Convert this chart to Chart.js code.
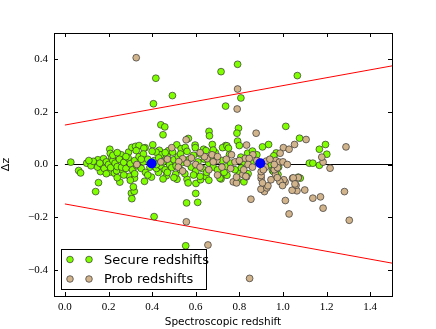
<!DOCTYPE html>
<html lang="en">
<head>
  <meta charset="UTF-8">
  <title>Delta z vs spectroscopic redshift</title>
  <script src="https://cdn.jsdelivr.net/npm/chart.js"></script>
  <style>
    body { margin: 0; background: #fff; }
  </style>
</head>
<body>
  <canvas id="myChart" width="436" height="329"></canvas>

  <script>
    // tick labels
    const xTicks = [0.0, 0.2, 0.4, 0.6, 0.8, 1.0, 1.2, 1.4];
    const yTicks = [-0.4, -0.2, 0.0, 0.2, 0.4];

    // [spec z, delta z]
    const securePts = [
      [0.027,0.009],[0.063,-0.023],[0.072,-0.032],[0.141,-0.103],[0.154,-0.069],[0.252,-0.067],
      [0.305,-0.109],[0.318,-0.102],[0.307,-0.130],[0.409,-0.198],[0.600,-0.110],[0.558,-0.146],
      [0.609,-0.144],[0.554,-0.309],[0.417,0.328],[0.493,0.262],[0.406,0.231],[0.440,0.151],
      [0.458,0.143],[0.450,0.113],[0.661,0.126],[0.663,0.109],[0.566,0.099],[0.716,0.353],
      [0.792,0.381],[1.066,0.338],[0.807,0.253],[0.737,0.222],[1.013,0.145],[0.796,0.138],
      [0.789,0.119],[1.076,0.100],[1.195,0.076],[1.167,0.058],[1.201,0.039],[0.934,0.076],
      [0.906,0.067],[0.969,0.044],[0.958,0.033],[1.121,0.005],[1.137,0.005],[1.167,-0.003],
      [0.792,0.089],[0.800,0.072],[0.676,0.076],[0.513,0.075],[0.533,0.060],[0.552,0.065],
      [0.597,0.074],[0.598,0.064],[0.636,0.058],[0.647,0.053],[0.737,0.072],[0.723,0.064],
      [0.368,0.064],[0.403,0.075],[0.475,0.053],[0.494,0.047],[0.433,0.054],[0.441,0.037],
      [0.418,0.047],[0.206,0.058],[0.208,0.042],[0.214,0.025],[0.258,0.037],[0.292,0.047],
      [0.307,0.065],[0.324,0.069],[0.340,0.072],[0.362,0.062],[0.327,0.053],[0.265,0.015],
      [0.151,0.018],[0.177,0.022],[0.133,0.007],[0.743,0.071],[0.750,0.062],[0.755,0.038],
      [0.838,0.043],[0.860,0.051],[0.880,0.037],[0.807,0.028],
      [0.163,-0.027],[0.205,-0.029],[0.227,-0.033],[0.237,-0.024],[0.266,-0.023],[0.296,-0.045],
      [0.319,-0.052],[0.314,-0.085],[0.365,-0.064],[0.397,-0.048],[0.429,-0.030],[0.465,-0.043],
      [0.508,-0.037],[0.514,-0.056],[0.560,-0.056],[0.565,-0.070],[0.601,-0.072],[0.622,-0.058],
      [0.647,-0.046],[0.707,-0.038],[0.716,-0.055],[0.743,-0.041],[0.711,-0.052],[0.743,-0.008],
      [0.800,-0.033],[0.809,-0.013],[0.821,-0.066],[0.952,-0.023],[0.957,-0.027],[0.977,-0.038],
      [1.079,-0.052],[1.070,-0.048],[0.790,-0.060],
      [0.100,0.005],[0.120,-0.005],[0.130,0.012],[0.150,-0.010],[0.170,0.000],[0.180,-0.015],
      [0.190,0.010],[0.200,0.000],[0.210,-0.012],[0.220,0.015],[0.230,0.005],[0.240,-0.008],
      [0.250,0.020],[0.260,-0.010],[0.270,0.008],[0.280,-0.015],[0.290,0.025],[0.300,0.003],
      [0.310,-0.020],[0.320,0.015],[0.330,-0.005],[0.340,0.030],[0.350,-0.015],[0.360,0.010],
      [0.370,-0.030],[0.380,0.020],[0.390,-0.010],[0.410,0.015],[0.420,-0.015],[0.430,0.025],
      [0.440,-0.005],[0.450,0.010],[0.460,-0.020],[0.470,0.030],[0.480,0.000],[0.490,-0.012],
      [0.500,0.018],[0.510,-0.005],[0.520,0.030],[0.530,-0.020],[0.540,0.008],[0.550,-0.035],
      [0.570,0.020],[0.580,-0.010],[0.590,0.035],[0.600,-0.025],[0.610,0.010],[0.620,0.040],
      [0.630,-0.015],[0.640,0.020],[0.650,-0.030],[0.660,0.005],[0.670,0.030],[0.680,-0.010],
      [0.690,0.045],[0.700,-0.020],[0.720,0.015],[0.730,-0.030],[0.760,0.005],[0.780,-0.020],
      [0.820,0.010],[0.840,-0.035],[0.860,0.005],[0.940,0.000],[0.980,-0.010],[0.360,0.040],
      [0.280,0.030],[0.220,0.035],[0.460,0.045],[0.560,0.050],[0.620,-0.045],[0.380,-0.040],
      [0.270,-0.040],[0.190,-0.035],[0.500,-0.050],[0.660,-0.060],[0.400,0.050],[0.300,-0.060],
      [0.110,0.015],[0.160,0.005],[0.240,0.045],[0.350,0.020],[0.470,-0.030],[0.530,0.040],
      [0.680,0.055],[0.590,-0.040],[0.450,-0.055],[0.240,-0.050],[0.420,0.000],[0.320,-0.035]
    ];

    const probPts = [
      [0.327,0.406],[0.792,0.287],[0.790,0.211],[0.877,0.119],[1.106,0.095],[1.289,0.067],
      [1.002,0.064],[1.028,0.058],[1.053,0.076],[0.987,0.043],[0.833,0.074],[1.184,0.009],
      [1.178,0.028],[1.216,-0.014],[0.556,0.094],[0.490,0.064],[0.540,0.022],[0.522,0.011],
      [0.652,0.022],[0.675,0.037],[0.697,0.015],[0.764,0.037],[0.862,0.037],[0.827,0.023],
      [0.845,0.023],[0.967,0.015],[0.983,0.009],[0.924,0.013],[0.557,-0.218],[0.656,-0.306],
      [0.853,-0.132],[1.011,-0.137],[1.028,-0.188],[1.137,-0.128],[1.172,-0.123],[1.184,-0.166],
      [1.282,-0.103],[1.304,-0.212],[0.847,-0.433],[1.100,-0.097],[1.064,-0.100],[1.042,-0.098],
      [1.060,-0.079],[0.915,-0.103],[0.899,-0.094],[0.926,-0.089],[0.931,-0.081],[1.044,-0.052],
      [1.070,-0.050],[1.010,-0.067],[1.004,-0.058],[0.986,-0.065],[0.966,-0.038],[0.974,-0.050],
      [0.945,-0.058],[0.900,-0.053],[0.906,-0.070],[0.900,-0.042],[0.772,-0.066],[0.787,-0.070],
      [0.833,-0.047],[0.900,-0.027],[0.787,-0.048],[0.816,-0.038],[0.830,-0.045],[0.998,-0.080],
      [1.047,-0.051],[1.055,-0.074],[0.960,-0.020],[0.975,-0.012],
      [0.470,0.020],[0.520,-0.010],[0.560,0.005],[0.580,0.025],[0.600,0.000],[0.620,-0.010],
      [0.640,0.030],[0.660,-0.020],[0.680,0.010],[0.700,0.030],[0.720,-0.010],[0.740,0.020],
      [0.760,-0.015],[0.780,0.010],[0.800,0.015],[0.820,-0.020],[0.840,0.000],[0.860,-0.010],
      [0.880,0.015],[0.920,-0.010],[0.940,0.020],[0.960,0.000],[1.000,0.010],[1.020,0.000],
      [0.910,-0.020],[0.700,-0.040],[0.620,0.045],[0.540,-0.025],[0.440,0.010],[0.330,0.000]
    ];

    // mean offsets per bin
    const meanPts = [[0.398,0.004],[0.896,0.005]];

    // reference lines: zero and +/- 0.15(1+z)
    const lineZ = [0.0, 1.5];
    const zeroDz = [0.0, 0.0];
    const upperDz = [0.15, 0.375];
    const lowerDz = [-0.15, -0.375];

    const toXY = pts => pts.map(p => ({ x: p[0], y: p[1] }));
    const lineXY = ys => lineZ.map((x, i) => ({ x: x, y: ys[i] }));
    const fmt = v => (v < 0 ? '\u2212' : '') + Math.abs(v).toFixed(1);

    // inward ticks on all four sides plus the frame
    const frameTicks = {
      id: 'frameTicks',
      afterDraw(chart) {
        const c = chart.ctx, a = chart.chartArea;
        const xs = chart.scales.x, ys = chart.scales.y;
        c.save();
        c.strokeStyle = '#000';
        c.lineWidth = 1;
        c.beginPath();
        xTicks.forEach(v => {
          const px = Math.round(xs.getPixelForValue(v)) + 0.5;
          c.moveTo(px, a.bottom); c.lineTo(px, a.bottom - 4);
          c.moveTo(px, a.top); c.lineTo(px, a.top + 4);
        });
        yTicks.forEach(v => {
          const py = Math.round(ys.getPixelForValue(v)) + 0.5;
          c.moveTo(a.left, py); c.lineTo(a.left + 4, py);
          c.moveTo(a.right, py); c.lineTo(a.right - 4, py);
        });
        c.stroke();
        c.strokeRect(Math.round(a.left) + 0.5, Math.round(a.top) + 0.5,
          Math.round(a.right - a.left), Math.round(a.bottom - a.top));
        c.restore();
      }
    };

    // legend box in the lower left corner, two markers per entry
    const insideLegend = {
      id: 'insideLegend',
      afterDraw(chart) {
        const c = chart.ctx, a = chart.chartArea;
        const items = chart.data.datasets.filter(d => d.inLegend);
        const x0 = a.left + 7, y0 = a.bottom - 47, w = 145, h = 40;
        c.save();
        c.fillStyle = '#fff';
        c.fillRect(x0, y0, w, h);
        c.strokeStyle = '#000';
        c.lineWidth = 1;
        c.strokeRect(x0 + 0.5, y0 + 0.5, w, h);
        c.font = '13px "DejaVu Sans"';
        c.textBaseline = 'middle';
        items.forEach((d, i) => {
          const yy = y0 + 10.5 + i * 19.5;
          [x0 + 9, x0 + 28].forEach(mx => {
            c.beginPath();
            c.arc(mx, yy, 3.3, 0, Math.PI * 2);
            c.fillStyle = d.backgroundColor;
            c.fill();
            c.lineWidth = 0.7;
            c.strokeStyle = d.borderColor;
            c.stroke();
          });
          c.fillStyle = '#000';
          c.fillText(d.label, x0 + 43, yy + 1);
        });
        c.restore();
      }
    };

    const ctx = document.getElementById('myChart').getContext('2d');
    const tickFont = { family: '"Liberation Serif"', size: 11 };

    new Chart(ctx, {
      type: 'scatter',
      data: {
        datasets: [
          {
            label: 'mean',
            data: toXY(meanPts),
            backgroundColor: '#0000ff',
            borderColor: '#0000ff',
            pointRadius: 5,
            borderWidth: 0,
            order: 0
          },
          {
            label: 'Secure redshifts',
            data: toXY(securePts),
            backgroundColor: '#7fff00',
            borderColor: '#333',
            pointRadius: 3.4,
            borderWidth: 0.7,
            inLegend: true,
            order: 2
          },
          {
            label: 'Prob redshifts',
            data: toXY(probPts),
            backgroundColor: '#d2b48c',
            borderColor: '#333',
            pointRadius: 3.4,
            borderWidth: 0.7,
            inLegend: true,
            order: 1
          },
          {
            label: 'zero',
            data: lineXY(zeroDz),
            showLine: true,
            borderColor: '#000',
            borderWidth: 1,
            pointRadius: 0,
            order: 3
          },
          {
            label: 'upper',
            data: lineXY(upperDz),
            showLine: true,
            borderColor: '#ff0000',
            borderWidth: 1,
            pointRadius: 0,
            order: 3
          },
          {
            label: 'lower',
            data: lineXY(lowerDz),
            showLine: true,
            borderColor: '#ff0000',
            borderWidth: 1,
            pointRadius: 0,
            order: 3
          }
        ]
      },
      options: {
        responsive: false,
        animation: false,
        devicePixelRatio: 1,
        layout: { padding: { left: 0, right: 44, top: 33, bottom: 0 } },
        plugins: {
          legend: { display: false },
          tooltip: { enabled: false }
        },
        scales: {
          x: {
            type: 'linear',
            min: -0.05,
            max: 1.5,
            afterBuildTicks: s => { s.ticks = xTicks.map(v => ({ value: v })); },
            afterFit: s => { s.height = 33; },
            grid: { display: false, drawTicks: false },
            border: { display: false },
            ticks: { callback: fmt, font: tickFont, color: '#000', padding: 5, maxRotation: 0 },
            title: {
              display: true,
              text: 'Spectroscopic redshift',
              font: { family: '"DejaVu Sans"', size: 10.5 },
              color: '#000',
              padding: { top: 0, bottom: 0 }
            }
          },
          y: {
            type: 'linear',
            min: -0.5,
            max: 0.5,
            afterBuildTicks: s => { s.ticks = yTicks.map(v => ({ value: v })); },
            afterFit: s => { s.width = 54; },
            grid: { display: false, drawTicks: false },
            border: { display: false },
            ticks: { callback: fmt, font: tickFont, color: '#000', padding: 6 },
            title: {
              display: true,
              text: '\u0394z',
              font: { family: '"DejaVu Sans"', size: 11 },
              color: '#000',
              padding: { top: 0, bottom: 6 }
            }
          }
        }
      },
      plugins: [frameTicks, insideLegend]
    });
  </script>
</body>
</html>
